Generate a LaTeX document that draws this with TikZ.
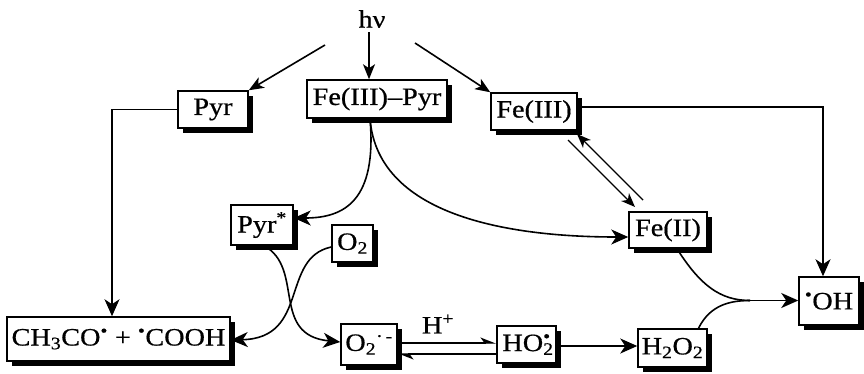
\documentclass[tikz,border=0pt]{standalone}
\usepackage{fontspec}
\setmainfont{Liberation Serif}[FakeStretch=1.13,FakeBold=0.6]
\usetikzlibrary{arrows.meta,shadows}
\tikzset{
 box/.style={draw, line width=1.5pt, fill=white, inner sep=0pt,
   drop shadow={shadow xshift=5pt, shadow yshift=-5pt, fill=black, opacity=1}},
 ln/.style={line width=1.6pt},
 arr/.style={line width=1.6pt, -{Stealth[length=17pt,width=15pt,inset=5pt]}},
 marr/.style={line width=1.6pt, -{Stealth[length=15pt,width=12pt,inset=4pt]}},
 sarr/.style={line width=1.4pt, -{Stealth[length=14pt,width=11pt,inset=4pt]}},
 harr/.style={line width=1.4pt, -{Stealth[harpoon,length=14pt,width=11pt,inset=4pt]}},
}
\begin{document}
\begin{tikzpicture}[x=1pt,y=-1pt, font=\fontsize{25}{28}\selectfont]
\useasboundingbox (0,0) rectangle (864,373);
% nodes
\node (hv) at (372,19) {hν};
\node[box, minimum width=70pt, minimum height=37pt] (pyr) at (213,109.5) {Pyr};
\node[box, minimum width=140pt, minimum height=38pt] (fepyr) at (377,99) {Fe(III)–Pyr};
\node[box, minimum width=86pt, minimum height=37pt] (fe3) at (534,111.5) {Fe(III)};
\node[box, minimum width=223pt, minimum height=44pt] (ch) at (118.5,339) {CH\textsubscript{3}CO\textsuperscript{•} + \textsuperscript{•}COOH};
\node[box, minimum width=62pt, minimum height=40pt] (pyrs) at (262,225) {Pyr\textsuperscript{*}};
\node[box, minimum width=41pt, minimum height=37pt] (o2) at (352.5,243.5) {O\textsubscript{2}};
\node[box, minimum width=56pt, minimum height=41pt] (o2r) at (369,344.5) {O\textsubscript{2}\textsuperscript{·\,-}};
\node[box, minimum width=59pt, minimum height=37pt] (ho2) at (526.5,344.5) {HO\rlap{\textsubscript{2}}\textsuperscript{•}\hspace{0.3em}};
\node[box, minimum width=69pt, minimum height=38pt] (h2o2) at (672.5,348) {H\textsubscript{2}O\textsubscript{2}};
\node[box, minimum width=78pt, minimum height=36pt] (fe2) at (668,230) {Fe(II)};
\node[box, minimum width=60pt, minimum height=48pt] (oh) at (829,301) {\textsuperscript{•}OH};
\node (hplus) at (438,324) {H\textsuperscript{+}};
% coordinates
\coordinate (hl) at (325,45);
\coordinate (hc) at (369,32);
\coordinate (hr) at (415,43);
\coordinate (m) at (750,300.5);
\coordinate (c1) at (823,107);
\coordinate (c2) at (112,109.5);
\coordinate (hy) at (0,346);
% hv arrows
\draw[marr] (hl) -- (pyr.north east);
\draw[marr] (hc) -- (fepyr.north -| hc);
\draw[marr] (hr) -- (fe3.north west);
% Pyr -> CH3CO
\draw[arr] (pyr.west) -- (c2) -- (c2 |- ch.north);
% Fe(III)-Pyr -> Pyr*, Fe(II)
\draw[arr] ([xshift=-7pt]fepyr.south) .. controls (377,200) and (345,218) .. ([yshift=7pt]pyrs.east);
\draw[arr] ([xshift=-7pt]fepyr.south) .. controls (378,220) and (520,237) .. ([yshift=-7pt]fe2.west);
% Fe(III) -> OH
\draw[arr] (fe3.east |- c1) -- (c1) -- (c1 |- oh.north);
% Fe(III) <-> Fe(II)
\coordinate (a1) at (568,140);
\coordinate (a2) at (635,207);
\coordinate (b1) at (643,200);
\coordinate (b2) at (577,134);
\draw[sarr] (a1) -- (a2);
\draw[sarr] (b1) -- (b2);
% crossing curves
\draw[arr] ([xshift=2pt]pyrs.south) .. controls (305,268) and (270,335) .. ([yshift=2.5pt]o2r.west);
\draw[arr] ([yshift=-3.5pt]o2.west) .. controls (280,258) and (310,338) .. ([yshift=-1pt]ch.east);
% O2- <-> HO2
\draw[harr] ([yshift=1.5pt]o2r.east) -- ([yshift=1.5pt]ho2.west);
\draw[harr] ([yshift=-9.5pt]ho2.west) -- ([yshift=-9.5pt]o2r.east);
% HO2 -> H2O2
\draw[arr] (ho2.east |- hy) -- (h2o2.west |- hy);
% Fe(II), H2O2 -> OH
\draw[ln] ([xshift=9pt]fe2.south) .. controls (700,285) and (720,300.5) .. (m);
\draw[ln] ([xshift=26pt]h2o2.north) .. controls (710,305) and (730,300.5) .. (m);
\draw[arr] (m) -- (oh.west |- m);
\end{tikzpicture}
\end{document}
